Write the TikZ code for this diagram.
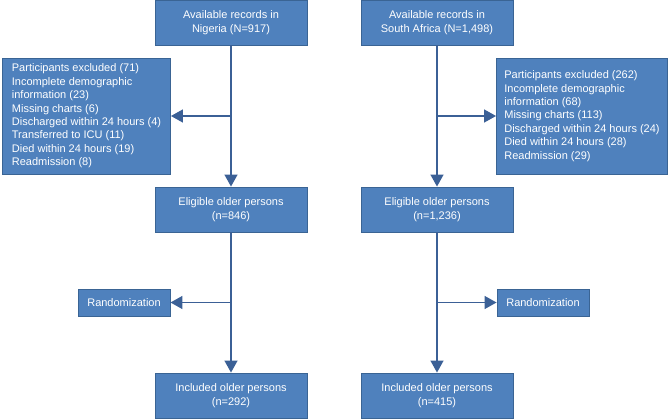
\documentclass[tikz,border=0pt]{standalone}
\usepackage{fontspec}
\setmainfont{Liberation Sans}
\usetikzlibrary{arrows.meta}
\definecolor{boxfill}{HTML}{4F81BD}
\definecolor{boxline}{HTML}{3A6494}
\definecolor{linecol}{HTML}{3B6096}
\tikzset{
  box/.style={draw=boxline, line width=0.9pt, fill=boxfill, text=white, inner sep=0pt,
    font=\fontsize{11}{13.4}\selectfont, align=center},
  mainbox/.style={box, minimum width=152pt, minimum height=45pt},
  exclbox/.style={box, align=left, minimum height=116pt},
  randbox/.style={box, minimum width=92pt, minimum height=27pt},
  arr/.style={draw=linecol, line width=1.4pt, -{Triangle[length=12pt, width=13pt]}}
}
\begin{document}
\begin{tikzpicture}[x=1pt, y=-1pt]
\useasboundingbox (0,0) rectangle (668,419);
% Nigeria column
\node[mainbox] (topL) at (231,22.5) {Available records in\\Nigeria (N=917)};
\node[exclbox, minimum width=168pt] (exclL) at (86.5,116) {Participants excluded (71)\\Incomplete demographic\\information (23)\\Missing charts (6)\\Discharged within 24 hours (4)\\Transferred to ICU (11)\\Died within 24 hours (19)\\Readmission (8)};
\node[mainbox] (eligL) at (231,209.5) {Eligible older persons\\(n=846)};
\node[randbox] (randL) at (124,302.5) {Randomization};
\node[mainbox] (inclL) at (231,395.5) {Included older persons\\(n=292)};
% South Africa column
\node[exclbox, minimum width=171pt] (exclR) at (582,116) {Participants excluded (262)\\Incomplete demographic\\information (68)\\Missing charts (113)\\Discharged within 24 hours (24)\\Died within 24 hours (28)\\Readmission (29)};
\node[mainbox] (topR) at (437,22.5) {Available records in\\South Africa (N=1,498)};
\node[mainbox] (eligR) at (437,209.5) {Eligible older persons\\(n=1,236)};
\node[randbox] (randR) at (543,302.5) {Randomization};
\node[mainbox] (inclR) at (437,395.5) {Included older persons\\(n=415)};
% connectors
\draw[arr] (topL) -- (eligL);
\draw[arr] (topL.south |- exclL.east) -- (exclL.east);
\draw[arr] (eligL) -- (inclL);
\draw[arr] (eligL.south |- randL.east) -- (randL.east);
\draw[arr] (topR) -- (eligR);
\draw[arr] (topR.south |- exclR.west) -- (exclR.west);
\draw[arr] (eligR) -- (inclR);
\draw[arr] (eligR.south |- randR.west) -- (randR.west);
\end{tikzpicture}
\end{document}
